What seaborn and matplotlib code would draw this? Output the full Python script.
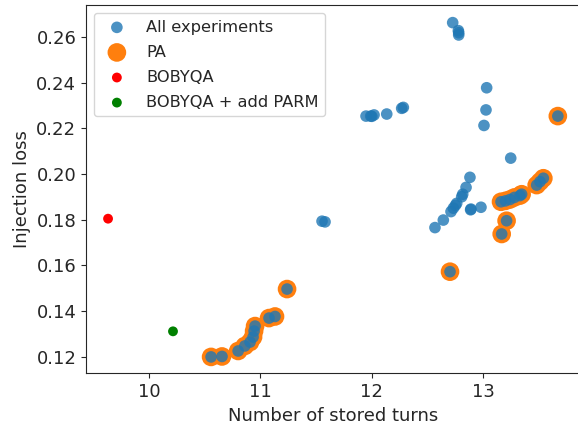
import numpy as np
import matplotlib.pyplot as plt
import seaborn as sns

sns.set_style("ticks")
plt.rcParams['font.family'] = ['DejaVu Sans']

# PA points (also part of all experiments)
pa_turns = [10.557, 10.655, 10.80, 10.86, 10.907, 10.934, 10.943, 10.952, 11.077, 11.131, 11.239,
            12.702, 13.166, 13.21, 13.16, 13.20, 13.24, 13.28, 13.33, 13.345, 13.48, 13.51, 13.54, 13.67]
pa_loss = [0.1199, 0.1201, 0.1225, 0.1247, 0.1264, 0.1286, 0.1312, 0.1334, 0.1369, 0.1376, 0.1496,
           0.1572, 0.1737, 0.1795, 0.1878, 0.1882, 0.1888, 0.1897, 0.1905, 0.1911, 0.1951, 0.1966, 0.1981, 0.2253]

# other experiments
other_turns = [11.553, 11.58,
               11.948, 11.99, 12.0, 12.02, 12.134, 12.268, 12.283,
               12.726, 12.777, 12.78, 12.78,
               13.031, 13.025, 13.007,
               12.567, 12.642, 12.711, 12.732, 12.75, 12.762, 12.807, 12.816, 12.846, 12.881,
               12.887, 12.89, 12.98,
               13.247]
other_loss = [0.1793, 0.1790,
              0.2253, 0.2253, 0.2252, 0.2258, 0.2262, 0.2287, 0.2291,
              0.2662, 0.2627, 0.2618, 0.2608,
              0.2377, 0.2280, 0.2212,
              0.1765, 0.1798, 0.1835, 0.1850, 0.1862, 0.1871, 0.1900, 0.1911, 0.1941, 0.1985,
              0.1843, 0.1846, 0.1854,
              0.2069]

all_turns = np.array(pa_turns + other_turns)
all_loss = np.array(pa_loss + other_loss)

bobyqa_turns = [9.632]
bobyqa_loss = [0.1804]
bobyqa_parm_turns = [10.215]
bobyqa_parm_loss = [0.1311]

fig = plt.figure(figsize=(5.78, 4.32), dpi=100)
ax = fig.add_axes([86 / 578, (432 - 373.3) / 432, 495 / 578, 368.3 / 432])

sns.scatterplot(x=all_turns, y=all_loss, s=70, color='#1f77b4', alpha=0.8,
                edgecolor='none', label='All experiments', zorder=3, ax=ax)
sns.scatterplot(x=pa_turns, y=pa_loss, s=180, color='#ff7f0e',
                edgecolor='none', label='PA', zorder=2, ax=ax)
sns.scatterplot(x=bobyqa_turns, y=bobyqa_loss, s=50, color='red',
                edgecolor='none', label='BOBYQA', zorder=3, ax=ax)
sns.scatterplot(x=bobyqa_parm_turns, y=bobyqa_parm_loss, s=50, color='green',
                edgecolor='none', label='BOBYQA + add PARM', zorder=3, ax=ax)

ax.set_xlim(9.434, 13.878)
ax.set_ylim(0.11273, 0.27392)
ax.set_xticks([10, 11, 12, 13])
ax.set_yticks([0.12, 0.14, 0.16, 0.18, 0.20, 0.22, 0.24, 0.26])
ax.tick_params(labelsize=13)
ax.set_xlabel('Number of stored turns', fontsize=13)
ax.set_ylabel('Injection loss', fontsize=13)
ax.legend(loc='upper left', fontsize=11.7, labelspacing=0.62)

plt.savefig('out.png', dpi=100)
